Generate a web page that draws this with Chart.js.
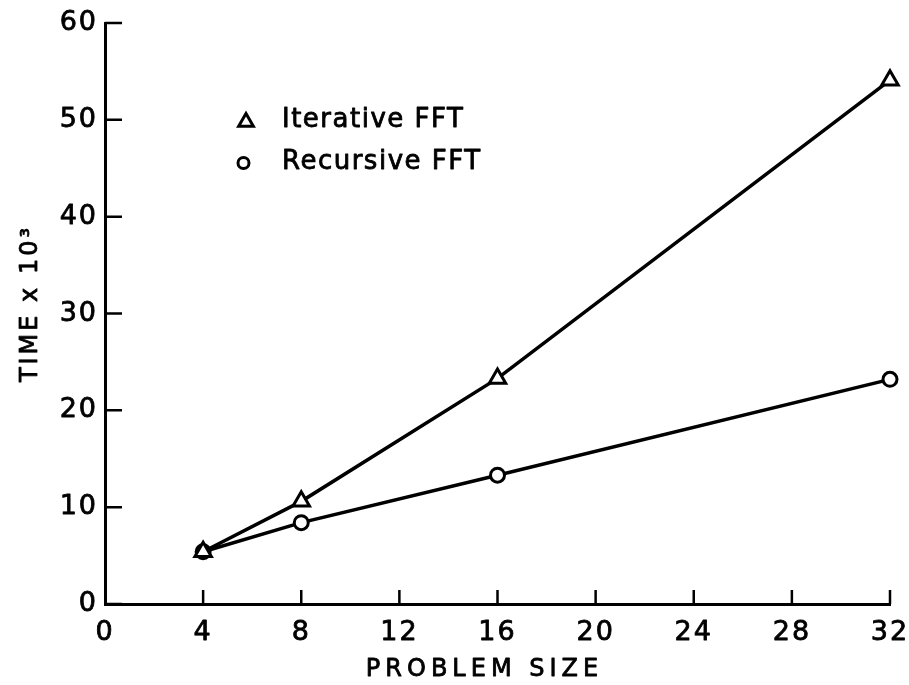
<!DOCTYPE html>
<html><head><meta charset="utf-8">
<script src="https://cdn.jsdelivr.net/npm/chart.js@4.4.1/dist/chart.umd.min.js"></script>
<style>html,body{margin:0;padding:0;background:#fff;} canvas{display:block;}</style>
</head><body>
<canvas id="c" width="909" height="685"></canvas>
<script>
// ---- data ----
const problemSize   = [4, 8, 16, 32];
const iterativeTime = [5.4, 10.6, 23.3, 54.1];
const recursiveTime = [5.4, 8.4, 13.3, 23.2];
const xTickValues = [0, 4, 8, 12, 16, 20, 24, 28, 32];
const yTickValues = [0, 10, 20, 30, 40, 50, 60];
const seriesNames = ['Iterative FFT', 'Recursive FFT'];
const xTitle = 'PROBLEM SIZE';
const yTitle = 'TIME x 10³';

const FONT = '"DejaVu Sans", sans-serif';
const TEXT_STROKE = 0.8; // slight extra weight, like the pen lettering

// run a drawing function with letter spacing and a thin outline on the text
function withLettering(c, spacing, fn) {
  c.save();
  c.letterSpacing = spacing;
  c.lineJoin = 'round';
  c.lineWidth = TEXT_STROKE;
  c.strokeStyle = '#000';
  c.fillText = function (t, x, y, m) {
    if (m === undefined) { this.strokeText(t, x, y); CanvasRenderingContext2D.prototype.fillText.call(this, t, x, y); }
    else { this.strokeText(t, x, y, m); CanvasRenderingContext2D.prototype.fillText.call(this, t, x, y, m); }
  };
  try { fn(); } finally { delete c.fillText; c.restore(); }
}

const spacingPlugin = {
  id: 'spacing',
  beforeDraw(chart) {
    const sp = { x: { label: '2px', title: '5px', dx: -13, dy: 0 },
                 y: { label: '2px', title: '3px', dx: 0, dy: -10 } };
    for (const id of ['x', 'y']) {
      const s = chart.scales[id];
      if (!s || s._patched) continue;
      const dl = s.drawLabels, dt = s.drawTitle;
      s.drawLabels = function (a) { withLettering(this.ctx, sp[id].label, () => dl.call(this, a)); };
      s.drawTitle = function () {
        withLettering(this.ctx, sp[id].title, () => { this.ctx.translate(sp[id].dx, sp[id].dy); dt.call(this); });
      };
      s._patched = true;
    }
  }
};

// inward tick marks, computed from the scales
const inwardTicks = {
  id: 'inwardTicks',
  beforeDatasetsDraw(chart) {
    const { ctx, chartArea, scales: { x, y } } = chart;
    ctx.save();
    ctx.strokeStyle = '#000';
    ctx.lineWidth = 2.5;
    ctx.beginPath();
    for (const v of yTickValues) {
      const py = y.getPixelForValue(v);
      ctx.moveTo(chartArea.left, py);
      ctx.lineTo(chartArea.left + 17, py);
    }
    for (const v of xTickValues) {
      if (v === 0) continue;
      const px = x.getPixelForValue(v);
      ctx.moveTo(px, chartArea.bottom);
      ctx.lineTo(px, chartArea.bottom - 14);
    }
    ctx.stroke();
    ctx.restore();
  }
};

// legend inside the plot (hollow symbol + spaced text)
const insideLegend = {
  id: 'insideLegend',
  afterDraw(chart) {
    const { ctx, chartArea } = chart;
    const items = chart.data.datasets.map((d, i) => ({
      text: seriesNames[i], style: d.pointStyle,
      radius: d.pointStyle === 'triangle' ? 8.5 : 5.5,
      sx: chartArea.left + (d.pointStyle === 'triangle' ? 141 : 138.5),
      sy: chartArea.top + (i === 0 ? 99 : 140),
      ty: chartArea.top + (i === 0 ? 97 : 139)
    }));
    for (const it of items) {
      ctx.save();
      ctx.strokeStyle = '#000';
      ctx.fillStyle = '#fff';
      Chart.helpers.drawPoint(ctx, { pointStyle: it.style, radius: it.radius, borderWidth: 3, rotation: 0 }, it.sx, it.sy);
      ctx.restore();
      withLettering(ctx, '1.5px', () => {
        ctx.fillStyle = '#000';
        ctx.font = '26px ' + FONT;
        ctx.textAlign = 'left';
        ctx.textBaseline = 'middle';
        ctx.fillText(it.text, chartArea.left + 177, it.ty);
      });
    }
  }
};

const pts = (ys) => problemSize.map((x, i) => ({ x, y: ys[i] }));

new Chart(document.getElementById('c'), {
  type: 'line',
  data: {
    datasets: [
      { label: seriesNames[0], data: pts(iterativeTime), borderColor: '#000', borderWidth: 3.5,
        pointStyle: 'triangle', pointRadius: 9.5, pointBorderWidth: 3,
        pointBackgroundColor: '#fff', pointBorderColor: '#000', tension: 0, fill: false, clip: false },
      { label: seriesNames[1], data: pts(recursiveTime), borderColor: '#000', borderWidth: 3.5,
        pointStyle: 'circle', pointRadius: 7, pointBorderWidth: 3,
        pointBackgroundColor: '#fff', pointBorderColor: '#000', tension: 0, fill: false, clip: false }
    ]
  },
  options: {
    responsive: false,
    devicePixelRatio: 1,
    animation: false,
    layout: { padding: { top: 23, right: 19, left: 0, bottom: 0 } },
    plugins: { legend: { display: false }, tooltip: { enabled: false } },
    scales: {
      x: {
        type: 'linear', min: 0, max: 32,
        afterBuildTicks: (s) => { s.ticks = xTickValues.map(v => ({ value: v })); },
        afterFit: (s) => { s.height = 81; s.paddingLeft = 0; s.paddingRight = 0; },
        grid: { display: false, drawTicks: false },
        border: { display: true, color: '#000', width: 3 },
        ticks: { color: '#000', font: { family: FONT, size: 27 }, padding: 13, maxRotation: 0, autoSkip: false },
        title: { display: true, text: xTitle, color: '#000', font: { family: FONT, size: 24 }, padding: { top: 0, bottom: 1 } }
      },
      y: {
        type: 'linear', min: 0, max: 60,
        afterBuildTicks: (s) => { s.ticks = yTickValues.map(v => ({ value: v })); },
        afterFit: (s) => { s.width = 105; s.paddingTop = 0; s.paddingBottom = 0; },
        grid: { display: false, drawTicks: false },
        border: { display: true, color: '#000', width: 3 },
        ticks: { color: '#000', font: { family: FONT, size: 27 }, padding: 7 },
        title: { display: true, text: yTitle, color: '#000', font: { family: FONT, size: 24 }, padding: { top: 16, bottom: 0 } }
      }
    }
  },
  plugins: [spacingPlugin, inwardTicks, insideLegend]
});
</script>
</body></html>
